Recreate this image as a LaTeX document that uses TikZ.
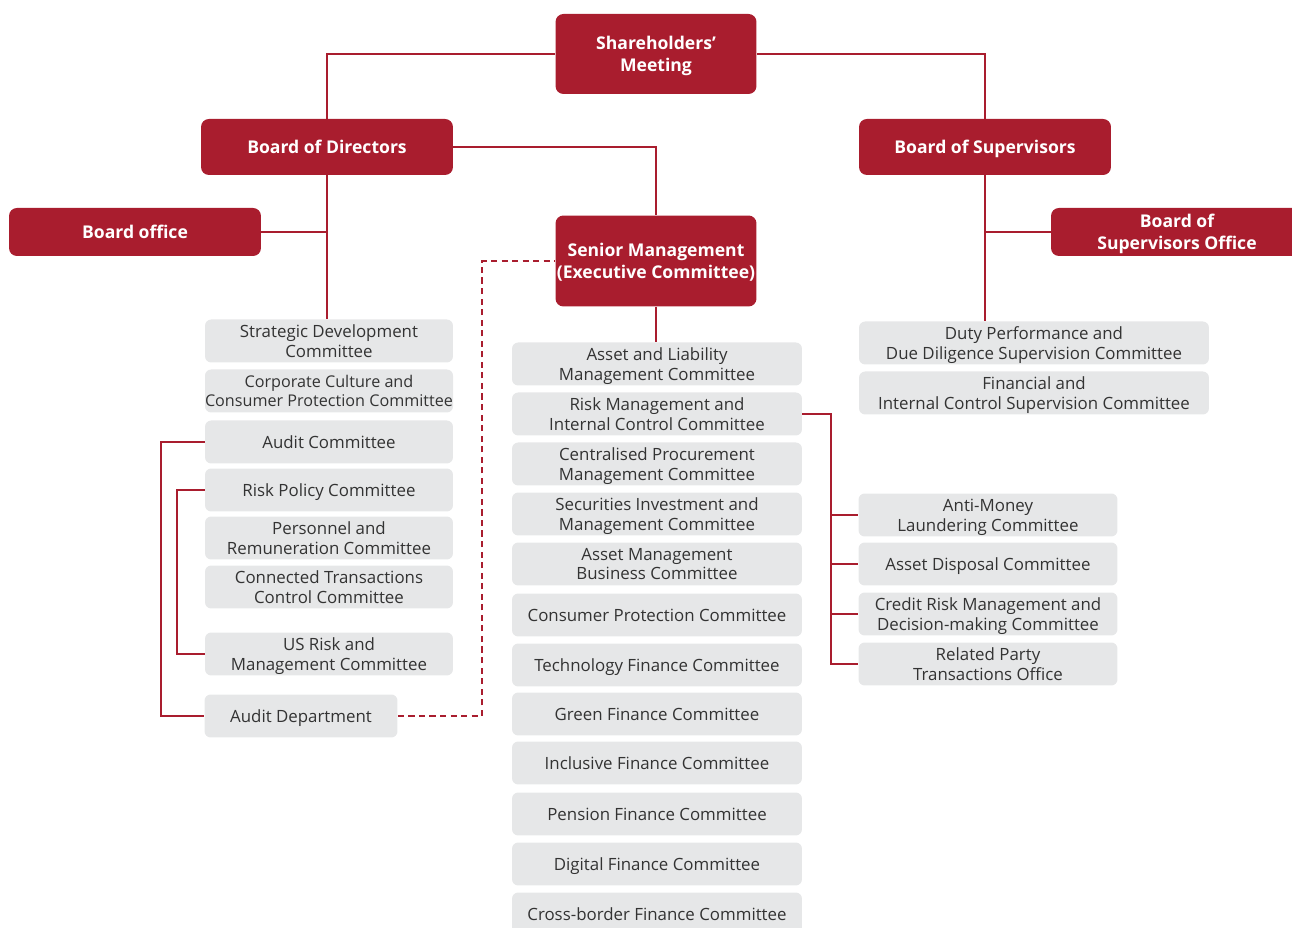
\documentclass[tikz,border=0pt]{standalone}
\usepackage{fontspec}
\setmainfont{Open Sans}
\usetikzlibrary{positioning}
\definecolor{bankred}{HTML}{A91D2E}
\definecolor{boxgrey}{HTML}{E6E7E8}
\definecolor{txtgrey}{HTML}{333333}
\begin{document}
\begin{tikzpicture}[x=0.02cm,y=-0.02cm,
	organ/.style={draw=none,fill=bankred,rounded corners=4.5pt,text=white,align=center,inner sep=0pt,text depth=0pt,font=\fontsize{10}{12.6}\selectfont\bfseries},
	cttee/.style={fill=boxgrey,rounded corners=3.5pt,text=txtgrey,align=center,inner sep=0pt,text depth=0pt,minimum height=0.86cm,font=\fontsize{9.6}{11.2}\selectfont},
	leftc/.style={cttee,minimum width=4.96cm},
	midc/.style={cttee,minimum width=5.8cm},
	supc/.style={cttee,minimum width=7cm},
	subc/.style={cttee,minimum width=5.18cm},
	link/.style={draw=bankred,line width=0.85pt}]
	\clip (0,0) rectangle (1292,928);
	% governing bodies
	\node[organ,minimum width=4.02cm,minimum height=1.6cm] (sm) at (656,54) {Shareholders’\\Meeting};
	\node[organ,minimum width=5.04cm,minimum height=1.12cm] (bod) at (327,147) {Board of Directors};
	\node[organ,minimum width=5.04cm,minimum height=1.12cm] (bos) at (985,147) {Board of Supervisors};
	\node[organ,minimum width=5.04cm,minimum height=0.96cm] (boffice) at (135,232) {Board office};
	\node[organ,minimum width=5.04cm,minimum height=0.96cm] (bosoffice) at (1177,232) {Board of\\Supervisors Office};
	\node[organ,minimum width=4.02cm,minimum height=1.82cm] (senior) at (656,261) {Senior Management\\(Executive Committee)};
	% board committees
	\node[leftc] (sdc) at (329,341) {Strategic Development\\Committee};
	\node[leftc,font=\fontsize{9.2}{11.2}\selectfont] (ccc) at (329,391) {Corporate Culture and\\Consumer Protection Committee};
	\node[leftc] (audc) at (329,442) {Audit Committee};
	\node[leftc] (rpc) at (329,490) {Risk Policy Committee};
	\node[leftc] (prc) at (329,538) {Personnel and\\Remuneration Committee};
	\node[leftc] (ctc) at (329,587) {Connected Transactions\\Control Committee};
	\node[leftc] (usr) at (329,654) {US Risk and\\Management Committee};
	\node[cttee,minimum width=3.86cm] (auddep) at (301,716) {Audit Department};
	% management committees
	\node[midc] (alm) at (657,364) {Asset and Liability\\Management Committee};
	\node[midc] (rmic) at (657,414) {Risk Management and\\Internal Control Committee};
	\node[midc] (cpm) at (657,464) {Centralised Procurement\\Management Committee};
	\node[midc] (sim) at (657,514) {Securities Investment and\\Management Committee};
	\node[midc] (amb) at (657,564) {Asset Management\\Business Committee};
	\node[midc] (cpc) at (657,615) {Consumer Protection Committee};
	\node[midc] (tfc) at (657,665) {Technology Finance Committee};
	\node[midc] (gfc) at (657,714) {Green Finance Committee};
	\node[midc] (ifc) at (657,763) {Inclusive Finance Committee};
	\node[midc] (pfc) at (657,814) {Pension Finance Committee};
	\node[midc] (dfc) at (657,864) {Digital Finance Committee};
	\node[midc] (cbf) at (657,914) {Cross-border Finance Committee};
	% supervisory committees
	\node[supc] (dpc) at (1034,343) {Duty Performance and\\Due Diligence Supervision Committee};
	\node[supc] (fic) at (1034,393) {Financial and\\Internal Control Supervision Committee};
	% under risk management
	\node[subc] (aml) at (988,515) {Anti-Money\\Laundering Committee};
	\node[subc] (adc) at (988,564) {Asset Disposal Committee};
	\node[subc] (crm) at (988,614) {Credit Risk Management and\\Decision-making Committee};
	\node[subc] (rpt) at (988,664) {Related Party\\Transactions Office};
	% elbow points
	\coordinate (ak) at (161,0);
	\coordinate (rk) at (177,0);
	\coordinate (dk) at (482,0);
	\coordinate (mk) at (831,0);
	% links
	\draw[link] (sm.west) -| (bod.north);
	\draw[link] (sm.east) -| (bos.north);
	\draw[link] (bod.east) -| (senior.north);
	\draw[link] (bod.south) -- (bod.south |- sdc.north);
	\draw[link] (boffice.east) -- (boffice.east -| bod.south);
	\draw[link] (bos.south) -- (bos.south |- dpc.north);
	\draw[link] (bosoffice.west) -- (bosoffice.west -| bos.south);
	\draw[link] (senior.south) -- (senior.south |- alm.north);
	\draw[link] (audc.west) -- (ak |- audc.west) |- (auddep.west);
	\draw[link] (rpc.west) -- (rk |- rpc.west) |- (usr.west);
	\draw[link,dash pattern=on 3.5pt off 2.5pt] (auddep.east) -- (dk |- auddep.east) |- (senior.west);
	\draw[link] (rmic.east) -- (mk |- rmic.east) |- (rpt.west);
	\foreach \c in {aml,adc,crm}
		\draw[link] (mk |- \c.west) -- (\c.west);
\end{tikzpicture}
\end{document}
